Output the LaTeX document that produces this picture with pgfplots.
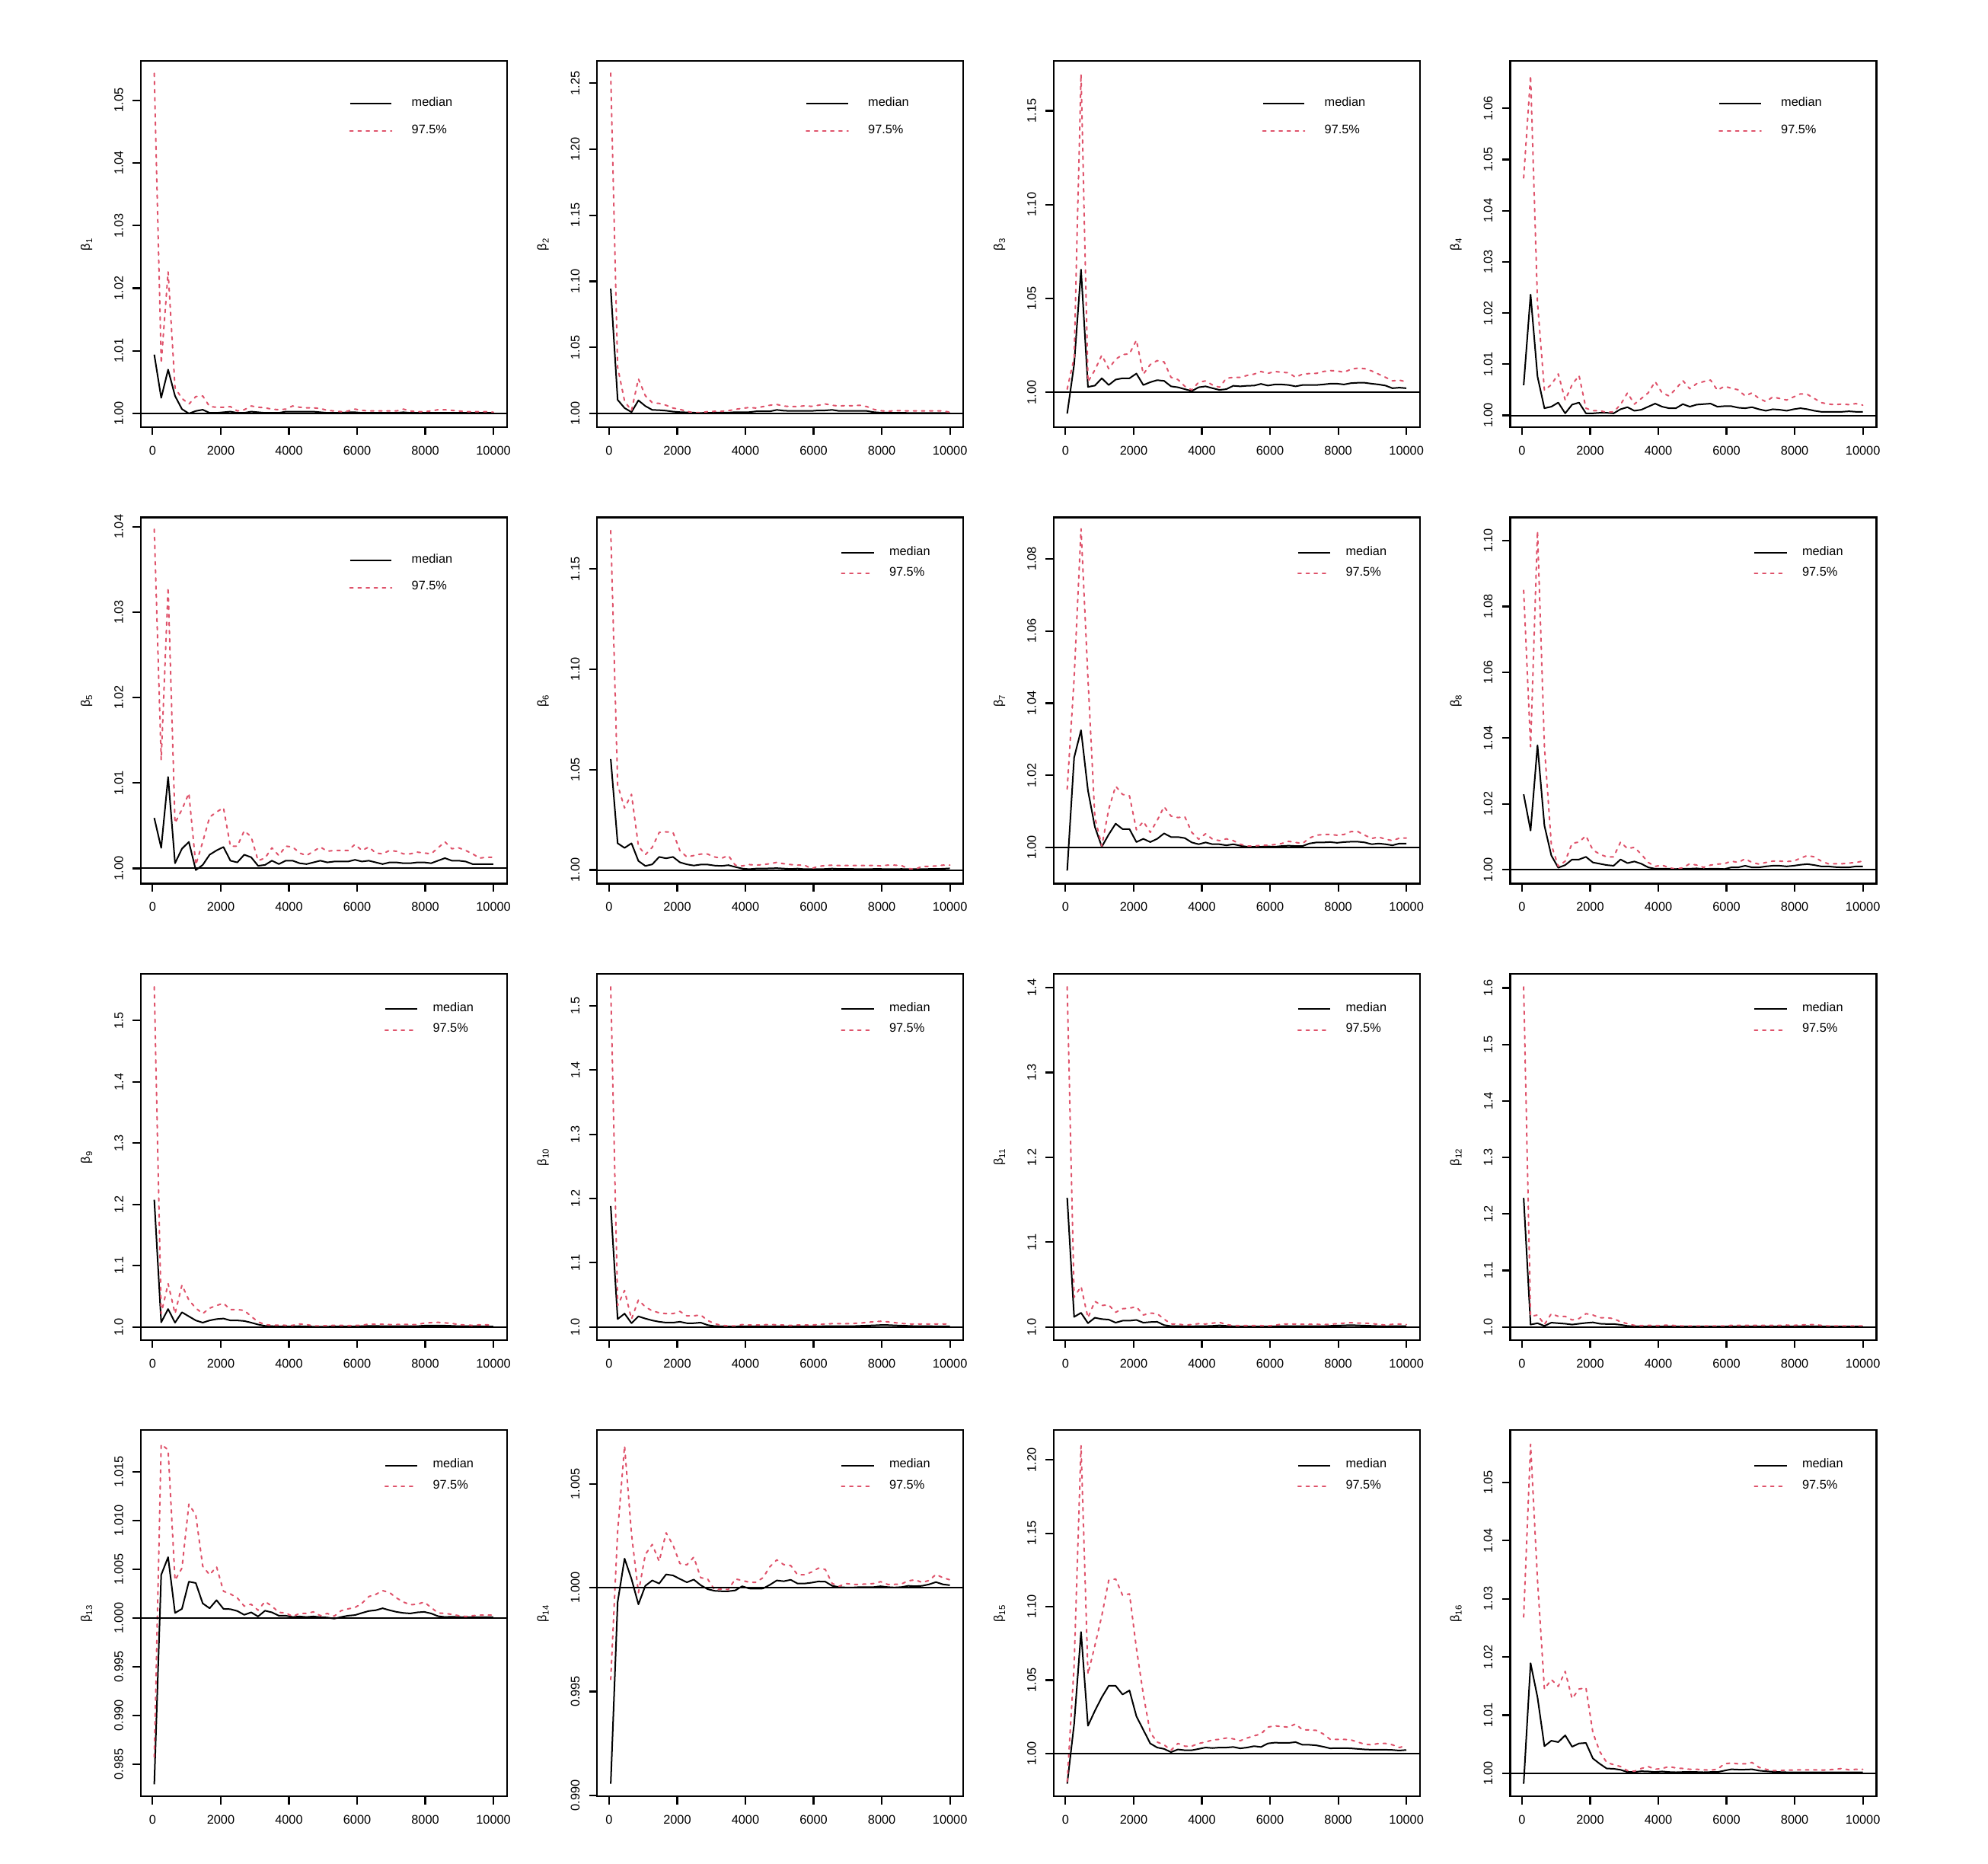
\documentclass[border=0pt]{standalone}
\usepackage{fontspec}
\setmainfont{Liberation Sans}
\usepackage{pgfplots}
\usepackage{pgfplotstable}
\pgfplotsset{compat=1.18}
\definecolor{qred}{HTML}{DF536B}
\newcommand\tickfont{\fontsize{4.9}{5.9}\selectfont}

% shrink factors (median, 97.5%) against last iteration, beta_1 ... beta_4
\pgfplotstableread{
it m1 q1 m2 q2 m3 q3 m4 q4
50 1.0094 1.0543 1.0944 1.2576 0.9887 1.0017 1.0059 1.0464
253 1.0025 1.0080 1.0103 1.0350 1.0148 1.0184 1.0236 1.0664
456 1.0070 1.0226 1.0041 1.0093 1.0654 1.1695 1.0076 1.0220
659 1.0028 1.0041 1.0010 1.0021 1.0029 1.0056 1.0014 1.0049
862 1.0007 1.0024 1.0099 1.0262 1.0036 1.0119 1.0017 1.0060
1065 1.0000 1.0015 1.0056 1.0134 1.0075 1.0198 1.0025 1.0081
1268 1.0004 1.0027 1.0027 1.0082 1.0039 1.0126 1.0004 1.0030
1471 1.0006 1.0028 1.0025 1.0076 1.0068 1.0176 1.0021 1.0060
1674 1.0001 1.0011 1.0021 1.0062 1.0075 1.0201 1.0025 1.0078
1877 1.0001 1.0010 1.0014 1.0041 1.0075 1.0205 1.0004 1.0014
2080 1.0002 1.0010 1.0010 1.0031 1.0100 1.0278 1.0004 1.0009
2283 1.0003 1.0011 1.0008 1.0016 1.0039 1.0097 1.0005 1.0009
2486 1.0001 1.0004 1.0006 1.0006 1.0054 1.0148 1.0005 1.0006
2689 1.0001 1.0006 1.0004 1.0006 1.0065 1.0169 1.0004 1.0007
2892 1.0003 1.0012 1.0005 1.0014 1.0061 1.0162 1.0012 1.0021
3095 1.0002 1.0010 1.0006 1.0016 1.0032 1.0080 1.0016 1.0044
3298 1.0001 1.0009 1.0006 1.0016 1.0027 1.0068 1.0009 1.0022
3501 1.0001 1.0007 1.0006 1.0021 1.0017 1.0032 1.0011 1.0033
3704 1.0001 1.0006 1.0010 1.0031 1.0007 1.0013 1.0017 1.0044
3907 1.0003 1.0007 1.0010 1.0039 1.0027 1.0054 1.0023 1.0066
4110 1.0003 1.0012 1.0010 1.0045 1.0032 1.0061 1.0017 1.0044
4313 1.0003 1.0010 1.0016 1.0041 1.0022 1.0039 1.0014 1.0038
4516 1.0003 1.0009 1.0016 1.0052 1.0013 1.0027 1.0014 1.0052
4719 1.0003 1.0009 1.0016 1.0062 1.0017 1.0075 1.0022 1.0068
4922 1.0002 1.0008 1.0027 1.0068 1.0035 1.0080 1.0017 1.0052
5125 1.0001 1.0005 1.0021 1.0056 1.0032 1.0080 1.0021 1.0062
5328 1.0001 1.0004 1.0019 1.0052 1.0035 1.0090 1.0022 1.0066
5531 1.0001 1.0003 1.0019 1.0052 1.0036 1.0097 1.0023 1.0069
5734 1.0002 1.0004 1.0019 1.0058 1.0045 1.0111 1.0017 1.0049
5937 1.0002 1.0007 1.0019 1.0054 1.0036 1.0101 1.0018 1.0057
6140 1.0001 1.0005 1.0023 1.0062 1.0042 1.0111 1.0018 1.0053
6343 1.0001 1.0004 1.0023 1.0072 1.0042 1.0107 1.0015 1.0050
6546 1.0001 1.0004 1.0027 1.0062 1.0039 1.0104 1.0014 1.0038
6749 1.0001 1.0004 1.0019 1.0056 1.0032 1.0080 1.0016 1.0044
6952 1.0001 1.0004 1.0019 1.0060 1.0039 1.0097 1.0012 1.0033
7155 1.0001 1.0004 1.0019 1.0058 1.0039 1.0100 1.0009 1.0027
7358 1.0002 1.0007 1.0019 1.0062 1.0039 1.0101 1.0012 1.0036
7561 1.0001 1.0004 1.0019 1.0052 1.0042 1.0111 1.0011 1.0033
7764 1.0001 1.0003 1.0010 1.0031 1.0046 1.0116 1.0009 1.0030
7967 1.0001 1.0003 1.0006 1.0021 1.0046 1.0114 1.0012 1.0036
8170 1.0001 1.0004 1.0006 1.0016 1.0042 1.0107 1.0014 1.0042
8373 1.0001 1.0006 1.0005 1.0021 1.0049 1.0123 1.0012 1.0041
8576 1.0001 1.0006 1.0005 1.0021 1.0051 1.0129 1.0009 1.0033
8779 1.0001 1.0005 1.0004 1.0019 1.0051 1.0126 1.0007 1.0025
8982 1.0001 1.0004 1.0004 1.0019 1.0046 1.0114 1.0007 1.0022
9185 1.0001 1.0003 1.0004 1.0019 1.0042 1.0097 1.0007 1.0021
9388 1.0001 1.0003 1.0004 1.0019 1.0036 1.0080 1.0007 1.0022
9591 1.0001 1.0003 1.0003 1.0019 1.0022 1.0061 1.0008 1.0021
9794 1.0001 1.0003 1.0003 1.0019 1.0025 1.0065 1.0007 1.0023
9997 1.0001 1.0002 1.0003 1.0010 1.0022 1.0056 1.0007 1.0020
}\rowA

% beta_5 ... beta_8
\pgfplotstableread{
it m1 q1 m2 q2 m3 q3 m4 q4
50 1.0059 1.0397 1.0553 1.1692 0.9936 1.0162 1.0229 1.0849
253 1.0024 1.0127 1.0133 1.0424 1.0249 1.0468 1.0119 1.0374
456 1.0107 1.0329 1.0110 1.0309 1.0325 1.0883 1.0378 1.1029
659 1.0006 1.0053 1.0133 1.0377 1.0158 1.0468 1.0134 1.0374
862 1.0023 1.0069 1.0045 1.0119 1.0057 1.0083 1.0043 1.0076
1065 1.0031 1.0088 1.0020 1.0076 1.0002 1.0004 1.0006 1.0010
1268 0.9998 1.0004 1.0028 1.0113 1.0036 1.0106 1.0014 1.0026
1471 1.0004 1.0031 1.0065 1.0187 1.0066 1.0170 1.0031 1.0080
1674 1.0016 1.0060 1.0058 1.0190 1.0051 1.0147 1.0031 1.0084
1877 1.0021 1.0066 1.0065 1.0187 1.0051 1.0143 1.0039 1.0103
2080 1.0025 1.0071 1.0038 1.0096 1.0015 1.0049 1.0022 1.0060
2283 1.0009 1.0026 1.0028 1.0065 1.0024 1.0072 1.0018 1.0047
2486 1.0007 1.0026 1.0022 1.0072 1.0015 1.0042 1.0014 1.0039
2689 1.0016 1.0044 1.0027 1.0079 1.0024 1.0075 1.0012 1.0039
2892 1.0013 1.0037 1.0027 1.0079 1.0039 1.0113 1.0031 1.0084
3095 1.0003 1.0009 1.0022 1.0065 1.0029 1.0087 1.0020 1.0064
3298 1.0004 1.0012 1.0020 1.0058 1.0029 1.0083 1.0025 1.0068
3501 1.0009 1.0024 1.0024 1.0072 1.0026 1.0085 1.0018 1.0047
3704 1.0005 1.0015 1.0015 1.0024 1.0014 1.0042 1.0007 1.0022
3907 1.0009 1.0026 1.0007 1.0020 1.0009 1.0023 1.0003 1.0010
4110 1.0009 1.0025 1.0004 1.0027 1.0014 1.0038 1.0003 1.0014
4313 1.0006 1.0018 1.0007 1.0024 1.0009 1.0023 1.0003 1.0006
4516 1.0005 1.0015 1.0007 1.0027 1.0009 1.0019 1.0002 1.0002
4719 1.0007 1.0020 1.0008 1.0031 1.0006 1.0024 1.0003 1.0006
4922 1.0009 1.0025 1.0009 1.0038 1.0009 1.0019 1.0003 1.0018
5125 1.0007 1.0020 1.0007 1.0031 1.0005 1.0009 1.0004 1.0014
5328 1.0008 1.0021 1.0005 1.0027 1.0002 1.0004 1.0002 1.0007
5531 1.0008 1.0021 1.0007 1.0024 1.0002 1.0004 1.0003 1.0014
5734 1.0008 1.0021 1.0004 1.0024 1.0002 1.0006 1.0003 1.0017
5937 1.0010 1.0028 1.0004 1.0007 1.0003 1.0006 1.0002 1.0018
6140 1.0008 1.0021 1.0004 1.0018 1.0002 1.0008 1.0007 1.0026
6343 1.0009 1.0025 1.0005 1.0022 1.0004 1.0011 1.0007 1.0022
6546 1.0007 1.0018 1.0007 1.0024 1.0005 1.0017 1.0012 1.0033
6749 1.0005 1.0017 1.0005 1.0022 1.0004 1.0014 1.0007 1.0022
6952 1.0007 1.0021 1.0005 1.0022 1.0004 1.0011 1.0007 1.0017
7155 1.0007 1.0020 1.0005 1.0022 1.0011 1.0026 1.0010 1.0022
7358 1.0006 1.0017 1.0004 1.0022 1.0014 1.0034 1.0012 1.0026
7561 1.0006 1.0017 1.0004 1.0022 1.0014 1.0036 1.0012 1.0026
7764 1.0007 1.0019 1.0005 1.0023 1.0015 1.0036 1.0010 1.0025
7967 1.0007 1.0018 1.0005 1.0020 1.0013 1.0034 1.0012 1.0026
8170 1.0006 1.0017 1.0004 1.0024 1.0015 1.0036 1.0015 1.0035
8373 1.0009 1.0024 1.0004 1.0024 1.0016 1.0044 1.0017 1.0043
8576 1.0012 1.0031 1.0005 1.0022 1.0016 1.0044 1.0014 1.0039
8779 1.0009 1.0023 1.0004 1.0007 1.0014 1.0034 1.0010 1.0026
8982 1.0009 1.0024 1.0004 1.0004 1.0009 1.0025 1.0010 1.0018
9185 1.0008 1.0021 1.0004 1.0018 1.0011 1.0029 1.0008 1.0018
9388 1.0005 1.0017 1.0005 1.0018 1.0009 1.0023 1.0007 1.0018
9591 1.0005 1.0012 1.0005 1.0020 1.0006 1.0019 1.0007 1.0020
9794 1.0005 1.0013 1.0006 1.0024 1.0011 1.0026 1.0010 1.0022
9997 1.0005 1.0013 1.0008 1.0024 1.0011 1.0026 1.0010 1.0026
}\rowB

% beta_9 ... beta_12
\pgfplotstableread{
it m1 q1 m2 q2 m3 q3 m4 q4
50 1.2076 1.5551 1.1883 1.5297 1.1522 1.4010 1.2284 1.6019
253 1.0076 1.0218 1.0123 1.0335 1.0119 1.0350 1.0043 1.0188
456 1.0293 1.0707 1.0208 1.0568 1.0167 1.0478 1.0067 1.0212
659 1.0071 1.0218 1.0059 1.0123 1.0045 1.0109 1.0019 1.0043
862 1.0240 1.0684 1.0165 1.0420 1.0109 1.0302 1.0077 1.0236
1065 1.0173 1.0440 1.0131 1.0314 1.0093 1.0254 1.0067 1.0188
1268 1.0107 1.0307 1.0102 1.0250 1.0087 1.0260 1.0058 1.0188
1471 1.0071 1.0218 1.0081 1.0221 1.0051 1.0173 1.0043 1.0125
1674 1.0107 1.0307 1.0068 1.0208 1.0074 1.0215 1.0058 1.0149
1877 1.0129 1.0351 1.0068 1.0208 1.0074 1.0222 1.0072 1.0236
2080 1.0138 1.0387 1.0081 1.0242 1.0083 1.0238 1.0082 1.0212
2283 1.0107 1.0284 1.0059 1.0174 1.0051 1.0141 1.0058 1.0164
2486 1.0107 1.0284 1.0059 1.0174 1.0058 1.0164 1.0053 1.0164
2689 1.0098 1.0271 1.0068 1.0187 1.0061 1.0157 1.0053 1.0149
2892 1.0071 1.0173 1.0030 1.0102 1.0022 1.0093 1.0039 1.0092
3095 1.0040 1.0084 1.0013 1.0051 1.0010 1.0035 1.0019 1.0058
3298 1.0018 1.0040 1.0010 1.0025 1.0010 1.0035 1.0012 1.0029
3501 1.0013 1.0027 1.0008 1.0017 1.0008 1.0022 1.0010 1.0024
3704 1.0009 1.0031 1.0008 1.0017 1.0008 1.0029 1.0010 1.0029
3907 1.0009 1.0027 1.0010 1.0038 1.0010 1.0039 1.0010 1.0024
4110 1.0009 1.0027 1.0010 1.0030 1.0010 1.0035 1.0010 1.0029
4313 1.0013 1.0049 1.0010 1.0030 1.0013 1.0045 1.0010 1.0034
4516 1.0009 1.0040 1.0010 1.0034 1.0019 1.0055 1.0010 1.0024
4719 1.0005 1.0018 1.0010 1.0038 1.0013 1.0029 1.0010 1.0019
4922 1.0005 1.0018 1.0010 1.0034 1.0008 1.0016 1.0010 1.0019
5125 1.0005 1.0022 1.0008 1.0030 1.0006 1.0016 1.0010 1.0019
5328 1.0009 1.0027 1.0008 1.0025 1.0006 1.0016 1.0010 1.0019
5531 1.0009 1.0027 1.0010 1.0030 1.0006 1.0016 1.0010 1.0019
5734 1.0009 1.0022 1.0010 1.0030 1.0006 1.0016 1.0010 1.0019
5937 1.0009 1.0027 1.0010 1.0030 1.0006 1.0013 1.0010 1.0019
6140 1.0013 1.0027 1.0010 1.0038 1.0008 1.0019 1.0010 1.0029
6343 1.0018 1.0049 1.0013 1.0047 1.0010 1.0035 1.0010 1.0029
6546 1.0018 1.0044 1.0013 1.0051 1.0010 1.0035 1.0010 1.0029
6749 1.0013 1.0044 1.0013 1.0051 1.0010 1.0035 1.0010 1.0029
6952 1.0013 1.0040 1.0013 1.0051 1.0010 1.0032 1.0010 1.0029
7155 1.0013 1.0040 1.0013 1.0055 1.0010 1.0032 1.0010 1.0029
7358 1.0013 1.0044 1.0017 1.0059 1.0010 1.0032 1.0010 1.0029
7561 1.0013 1.0040 1.0021 1.0072 1.0010 1.0029 1.0010 1.0029
7764 1.0013 1.0040 1.0025 1.0081 1.0013 1.0032 1.0010 1.0034
7967 1.0022 1.0062 1.0030 1.0089 1.0016 1.0039 1.0010 1.0029
8170 1.0022 1.0071 1.0030 1.0081 1.0019 1.0045 1.0012 1.0034
8373 1.0022 1.0076 1.0025 1.0068 1.0022 1.0051 1.0014 1.0043
8576 1.0022 1.0067 1.0021 1.0055 1.0019 1.0045 1.0012 1.0043
8779 1.0018 1.0058 1.0017 1.0047 1.0016 1.0045 1.0008 1.0029
8982 1.0013 1.0040 1.0013 1.0047 1.0013 1.0039 1.0008 1.0019
9185 1.0013 1.0031 1.0013 1.0047 1.0010 1.0032 1.0008 1.0019
9388 1.0013 1.0027 1.0013 1.0047 1.0008 1.0022 1.0008 1.0019
9591 1.0013 1.0036 1.0010 1.0047 1.0010 1.0032 1.0008 1.0019
9794 1.0009 1.0036 1.0010 1.0047 1.0010 1.0035 1.0008 1.0019
9997 1.0009 1.0027 1.0010 1.0047 1.0010 1.0029 1.0008 1.0019
}\rowC

% beta_13 ... beta_16
\pgfplotstableread{
it m1 q1 m2 q2 m3 q3 m4 q4
50 0.98293 0.98572 0.99056 0.99558 0.97944 0.98093 0.99822 1.02687
253 1.00441 1.01779 0.99931 1.00271 1.02000 1.06000 1.01893 1.05654
456 1.00622 1.01723 1.00140 1.00683 1.08278 1.20963 1.01308 1.03320
659 1.00050 1.00385 1.00042 1.00258 1.01889 1.05407 1.00467 1.01449
862 1.00092 1.00510 0.99920 0.99976 1.02907 1.07352 1.00561 1.01612
1065 1.00371 1.01166 1.00009 1.00160 1.03833 1.09389 1.00537 1.01495
1268 1.00357 1.01054 1.00035 1.00208 1.04611 1.11796 1.00654 1.01752
1471 1.00148 1.00530 1.00020 1.00127 1.04611 1.11889 1.00458 1.01285
1674 1.00098 1.00441 1.00064 1.00264 1.04019 1.10778 1.00514 1.01449
1877 1.00181 1.00524 1.00059 1.00205 1.04296 1.10870 1.00523 1.01472
2080 1.00092 1.00273 1.00042 1.00116 1.02537 1.07167 1.00257 1.00701
2283 1.00089 1.00245 1.00026 1.00110 1.01611 1.04019 1.00164 1.00374
2486 1.00070 1.00204 1.00039 1.00147 1.00685 1.01426 1.00084 1.00187
2689 1.00031 1.00120 1.00012 1.00048 1.00407 1.00778 1.00079 1.00150
2892 1.00056 1.00139 0.99993 1.00042 1.00315 1.00593 1.00061 1.00117
3095 1.00014 1.00078 0.99985 0.99990 1.00093 1.00222 1.00023 1.00047
3298 1.00073 1.00167 0.99983 0.99993 1.00278 1.00685 1.00023 1.00037
3501 1.00056 1.00120 0.99983 0.99991 1.00222 1.00500 1.00037 1.00084
3704 1.00022 1.00056 0.99987 1.00042 1.00222 1.00500 1.00033 1.00117
3907 1.00022 1.00050 1.00007 1.00035 1.00315 1.00685 1.00023 1.00070
4110 1.00008 1.00014 0.99996 1.00026 1.00407 1.00778 1.00033 1.00084
4313 1.00014 1.00045 0.99995 1.00026 1.00370 1.00926 1.00023 1.00117
4516 1.00008 1.00045 0.99996 1.00048 1.00407 1.00963 1.00019 1.00093
4719 1.00014 1.00061 1.00014 1.00101 1.00407 1.01056 1.00023 1.00084
4922 1.00006 1.00022 1.00035 1.00134 1.00444 1.01000 1.00023 1.00070
5125 1.00003 1.00045 1.00031 1.00111 1.00352 1.00870 1.00023 1.00070
5328 0.99992 1.00017 1.00038 1.00107 1.00407 1.01056 1.00019 1.00061
5531 1.00008 1.00073 1.00020 1.00062 1.00500 1.01204 1.00023 1.00056
5734 1.00022 1.00092 1.00020 1.00062 1.00444 1.01333 1.00023 1.00070
5937 1.00028 1.00106 1.00024 1.00075 1.00685 1.01796 1.00047 1.00164
6140 1.00050 1.00148 1.00030 1.00094 1.00741 1.01889 1.00070 1.00178
6343 1.00070 1.00218 1.00029 1.00088 1.00722 1.01833 1.00065 1.00164
6546 1.00078 1.00240 1.00009 1.00020 1.00722 1.01796 1.00065 1.00164
6749 1.00098 1.00279 1.00003 1.00007 1.00778 1.02019 1.00070 1.00187
6952 1.00078 1.00259 1.00001 1.00020 1.00593 1.01611 1.00047 1.00103
7155 1.00061 1.00204 1.00001 1.00016 1.00593 1.01611 1.00037 1.00070
7358 1.00050 1.00162 1.00003 1.00016 1.00556 1.01574 1.00028 1.00047
7561 1.00045 1.00134 1.00003 1.00018 1.00463 1.01333 1.00023 1.00047
7764 1.00056 1.00139 1.00003 1.00020 1.00352 1.00963 1.00019 1.00056
7967 1.00061 1.00162 1.00007 1.00029 1.00370 1.00963 1.00019 1.00056
8170 1.00045 1.00106 1.00003 1.00016 1.00370 1.00963 1.00019 1.00061
8373 1.00017 1.00050 1.00001 1.00016 1.00352 1.00926 1.00019 1.00061
8576 1.00008 1.00045 1.00003 1.00018 1.00315 1.00778 1.00019 1.00061
8779 1.00011 1.00036 1.00009 1.00033 1.00278 1.00630 1.00019 1.00056
8982 1.00008 1.00022 1.00007 1.00038 1.00259 1.00593 1.00019 1.00061
9185 1.00006 1.00014 1.00009 1.00025 1.00259 1.00685 1.00019 1.00070
9388 1.00006 1.00022 1.00016 1.00035 1.00259 1.00685 1.00019 1.00084
9591 1.00006 1.00028 1.00027 1.00064 1.00241 1.00593 1.00019 1.00061
9794 1.00006 1.00028 1.00016 1.00048 1.00204 1.00407 1.00019 1.00070
9997 1.00006 1.00028 1.00012 1.00038 1.00241 1.00537 1.00019 1.00070
}\rowD

\pgfplotsset{
  gpanel/.style={
    scale only axis, width=144.3pt, height=144.3pt,
    anchor=north west,
    xmin=-348, xmax=10395,
    xtick={0,2000,4000,6000,8000,10000},
    scaled ticks=false,
    tick align=outside, tick pos=left,
    major tick length=3.1pt,
    every tick/.style={black, line width=0.65pt},
    axis line style={black, line width=0.7pt},
    /pgf/number format/assume math mode=true,
    x tick label style={/pgf/number format/1000 sep={}, font=\tickfont, anchor=north, inner sep=0pt},
    xticklabel shift=4.2pt,
    y tick label style={rotate=90, anchor=south, font=\tickfont, inner sep=0pt,
      /pgf/number format/fixed, /pgf/number format/fixed zerofill},
    yticklabel shift=3.6pt,
    every axis y label/.style={at={(axis description cs:-0.148,0.5)}, rotate=90, anchor=center, font=\tickfont},
    legend cell align=left,
  },
  legA/.style={
    legend image code/.code={\draw[##1] (0pt,0pt) -- (16.4pt,0pt);},
    legend style={at={(0.568,0.9017)}, anchor=north west, draw=none, fill=none,
      inner sep=0pt, column sep=7.6pt, row sep=5.8pt, nodes={inner sep=0pt, font=\tickfont}},
  },
  legB/.style={
    legend image code/.code={\draw[##1] (0pt,0pt) -- (12.7pt,0pt);},
    legend style={at={(0.664,0.9227)}, anchor=north west, draw=none, fill=none,
      inner sep=0pt, column sep=5.8pt, row sep=3.3pt, nodes={inner sep=0pt, font=\tickfont}},
  },
  med/.style={black, line width=0.6pt, line join=round},
  qline/.style={qred, line width=0.6pt, line join=round, line cap=round, dash pattern=on 1.2pt off 2.0pt},
  hone/.style={black, line width=0.6pt, forget plot},
}

\begin{document}
\begin{tikzpicture}
\path[use as bounding box] (0,0) rectangle (783.3pt,734.1pt);

% ---------------- row 1 ----------------
\begin{axis}[gpanel, legA, at={(55.44pt,710.13pt)},
  ymin=0.99783, ymax=1.0563, ytick={1,1.01,1.02,1.03,1.04,1.05},
  y tick label style={/pgf/number format/precision=2}, ylabel={β\textsubscript{1}}]
\addplot[med] table[x=it,y=m1]{\rowA};
\addplot[qline] table[x=it,y=q1]{\rowA};
\addplot[hone] coordinates {(-1000,1) (11000,1)};
\legend{median,97.5\%}
\end{axis}

\begin{axis}[gpanel, legA, at={(235.29pt,710.13pt)},
  ymin=0.98969, ymax=1.2669, ytick={1,1.05,1.1,1.15,1.2,1.25},
  y tick label style={/pgf/number format/precision=2}, ylabel={β\textsubscript{2}}]
\addplot[med] table[x=it,y=m2]{\rowA};
\addplot[qline] table[x=it,y=q2]{\rowA};
\addplot[hone] coordinates {(-1000,1) (11000,1)};
\legend{median,97.5\%}
\end{axis}

\begin{axis}[gpanel, legA, at={(415.14pt,710.13pt)},
  ymin=0.9815, ymax=1.1766, ytick={1,1.05,1.1,1.15},
  y tick label style={/pgf/number format/precision=2}, ylabel={β\textsubscript{3}}]
\addplot[med] table[x=it,y=m3]{\rowA};
\addplot[qline] table[x=it,y=q3]{\rowA};
\addplot[hone] coordinates {(-1000,1) (11000,1)};
\legend{median,97.5\%}
\end{axis}

\begin{axis}[gpanel, legA, at={(594.99pt,710.13pt)},
  ymin=0.99771, ymax=1.0693, ytick={1,1.01,1.02,1.03,1.04,1.05,1.06},
  y tick label style={/pgf/number format/precision=2}, ylabel={β\textsubscript{4}}]
\addplot[med] table[x=it,y=m4]{\rowA};
\addplot[qline] table[x=it,y=q4]{\rowA};
\addplot[hone] coordinates {(-1000,1) (11000,1)};
\legend{median,97.5\%}
\end{axis}

% ---------------- row 2 ----------------
\begin{axis}[gpanel, legA, at={(55.44pt,530.28pt)},
  ymin=0.99822, ymax=1.0411, ytick={1,1.01,1.02,1.03,1.04},
  y tick label style={/pgf/number format/precision=2}, ylabel={β\textsubscript{5}}]
\addplot[med] table[x=it,y=m1]{\rowB};
\addplot[qline] table[x=it,y=q1]{\rowB};
\addplot[hone] coordinates {(-1000,1) (11000,1)};
\legend{median,97.5\%}
\end{axis}

\begin{axis}[gpanel, legB, at={(235.29pt,530.28pt)},
  ymin=0.99322, ymax=1.1758, ytick={1,1.05,1.1,1.15},
  y tick label style={/pgf/number format/precision=2}, ylabel={β\textsubscript{6}}]
\addplot[med] table[x=it,y=m2]{\rowB};
\addplot[qline] table[x=it,y=q2]{\rowB};
\addplot[hone] coordinates {(-1000,1) (11000,1)};
\legend{median,97.5\%}
\end{axis}

\begin{axis}[gpanel, legB, at={(415.14pt,530.28pt)},
  ymin=0.99, ymax=1.0915, ytick={1,1.02,1.04,1.06,1.08},
  y tick label style={/pgf/number format/precision=2}, ylabel={β\textsubscript{7}}]
\addplot[med] table[x=it,y=m3]{\rowB};
\addplot[qline] table[x=it,y=q3]{\rowB};
\addplot[hone] coordinates {(-1000,1) (11000,1)};
\legend{median,97.5\%}
\end{axis}

\begin{axis}[gpanel, legB, at={(594.99pt,530.28pt)},
  ymin=0.99578, ymax=1.1071, ytick={1,1.02,1.04,1.06,1.08,1.1},
  y tick label style={/pgf/number format/precision=2}, ylabel={β\textsubscript{8}}]
\addplot[med] table[x=it,y=m4]{\rowB};
\addplot[qline] table[x=it,y=q4]{\rowB};
\addplot[hone] coordinates {(-1000,1) (11000,1)};
\legend{median,97.5\%}
\end{axis}

% ---------------- row 3 ----------------
\begin{axis}[gpanel, legB, at={(55.44pt,350.43pt)},
  ymin=0.97867, ymax=1.5764, ytick={1,1.1,1.2,1.3,1.4,1.5},
  y tick label style={/pgf/number format/precision=1}, ylabel={β\textsubscript{9}}]
\addplot[med] table[x=it,y=m1]{\rowC};
\addplot[qline] table[x=it,y=q1]{\rowC};
\addplot[hone] coordinates {(-1000,1) (11000,1)};
\legend{median,97.5\%}
\end{axis}

\begin{axis}[gpanel, legB, at={(235.29pt,350.43pt)},
  ymin=0.97964, ymax=1.55, ytick={1,1.1,1.2,1.3,1.4,1.5},
  y tick label style={/pgf/number format/precision=1}, ylabel={β\textsubscript{10}}]
\addplot[med] table[x=it,y=m2]{\rowC};
\addplot[qline] table[x=it,y=q2]{\rowC};
\addplot[hone] coordinates {(-1000,1) (11000,1)};
\legend{median,97.5\%}
\end{axis}

\begin{axis}[gpanel, legB, at={(415.14pt,350.43pt)},
  ymin=0.98459, ymax=1.4164, ytick={1,1.1,1.2,1.3,1.4},
  y tick label style={/pgf/number format/precision=1}, ylabel={β\textsubscript{11}}]
\addplot[med] table[x=it,y=m3]{\rowC};
\addplot[qline] table[x=it,y=q3]{\rowC};
\addplot[hone] coordinates {(-1000,1) (11000,1)};
\legend{median,97.5\%}
\end{axis}

\begin{axis}[gpanel, legB, at={(594.99pt,350.43pt)},
  ymin=0.97687, ymax=1.6251, ytick={1,1.1,1.2,1.3,1.4,1.5,1.6},
  y tick label style={/pgf/number format/precision=1}, ylabel={β\textsubscript{12}}]
\addplot[med] table[x=it,y=m4]{\rowC};
\addplot[qline] table[x=it,y=q4]{\rowC};
\addplot[hone] coordinates {(-1000,1) (11000,1)};
\legend{median,97.5\%}
\end{axis}

% ---------------- row 4 ----------------
\begin{axis}[gpanel, legB, at={(55.44pt,170.61pt)},
  ymin=0.98168, ymax=1.01924, ytick={0.985,0.99,0.995,1,1.005,1.01,1.015},
  y tick label style={/pgf/number format/precision=3}, ylabel={β\textsubscript{13}}]
\addplot[med] table[x=it,y=m1]{\rowD};
\addplot[qline] table[x=it,y=q1]{\rowD};
\addplot[hone] coordinates {(-1000,1) (11000,1)};
\legend{median,97.5\%}
\end{axis}

\begin{axis}[gpanel, legB, at={(235.29pt,170.61pt)},
  ymin=0.98995, ymax=1.00758, ytick={0.99,0.995,1,1.005},
  y tick label style={/pgf/number format/precision=3}, ylabel={β\textsubscript{14}}]
\addplot[med] table[x=it,y=m2]{\rowD};
\addplot[qline] table[x=it,y=q2]{\rowD};
\addplot[hone] coordinates {(-1000,1) (11000,1)};
\legend{median,97.5\%}
\end{axis}

\begin{axis}[gpanel, legB, at={(415.14pt,170.61pt)},
  ymin=0.97074, ymax=1.2202, ytick={1,1.05,1.1,1.15,1.2},
  y tick label style={/pgf/number format/precision=2}, ylabel={β\textsubscript{15}}]
\addplot[med] table[x=it,y=m3]{\rowD};
\addplot[qline] table[x=it,y=q3]{\rowD};
\addplot[hone] coordinates {(-1000,1) (11000,1)};
\legend{median,97.5\%}
\end{axis}

\begin{axis}[gpanel, legB, at={(594.99pt,170.61pt)},
  ymin=0.99603, ymax=1.05897, ytick={1,1.01,1.02,1.03,1.04,1.05},
  y tick label style={/pgf/number format/precision=2}, ylabel={β\textsubscript{16}}]
\addplot[med] table[x=it,y=m4]{\rowD};
\addplot[qline] table[x=it,y=q4]{\rowD};
\addplot[hone] coordinates {(-1000,1) (11000,1)};
\legend{median,97.5\%}
\end{axis}

\end{tikzpicture}
\end{document}
